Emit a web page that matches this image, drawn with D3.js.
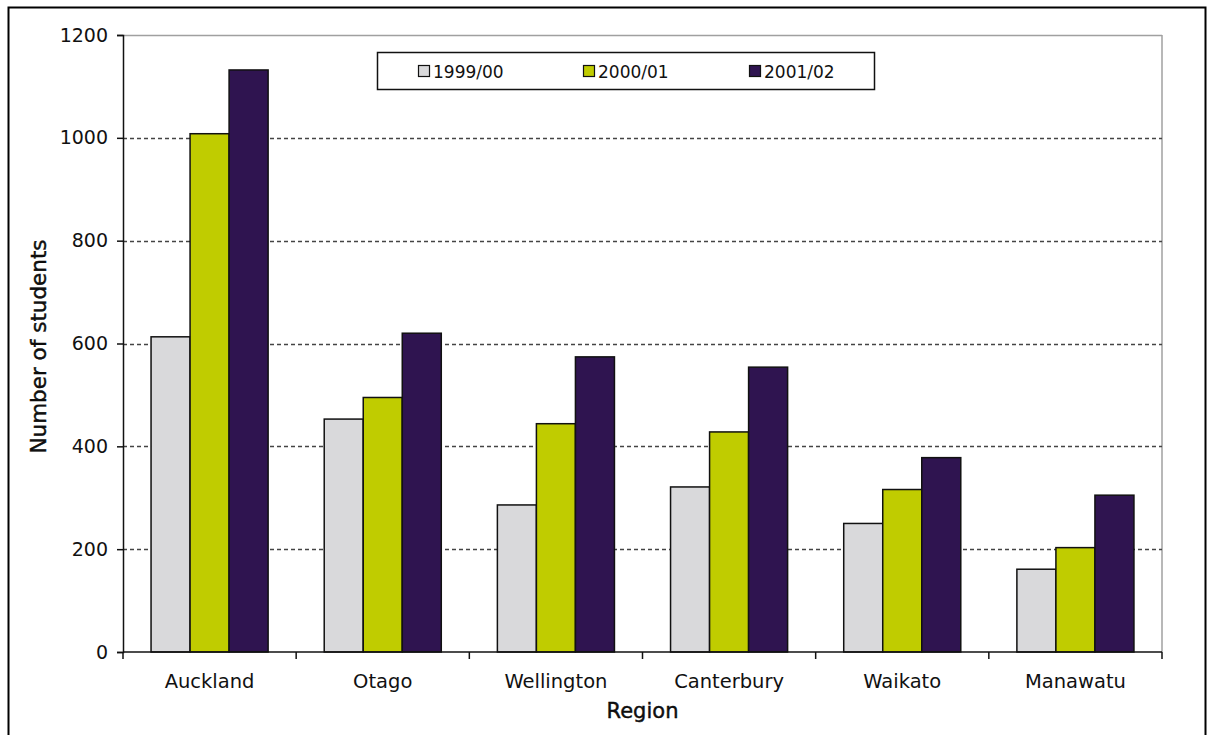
<!DOCTYPE html>
<html>
<head>
<meta charset="utf-8">
<script src="https://cdn.jsdelivr.net/npm/d3@7"></script>
<style>
  html, body { margin: 0; padding: 0; background: #fff; }
  svg { display: block; }
  text { font-family: "DejaVu Sans", Verdana, sans-serif; fill: #111; }
</style>
</head>
<body>
<svg id="chart" width="1209" height="735"></svg>
<script>
// ---- data ----
const regions = ["Auckland", "Otago", "Wellington", "Canterbury", "Waikato", "Manawatu"];
const seriesNames = ["1999/00", "2000/01", "2001/02"];
const values1999 = [613, 453, 286, 321, 250, 161];
const values2000 = [1008, 495, 444, 428, 316, 203];
const values2001 = [1132, 620, 574, 554, 378, 305];
const yTicks = [0, 200, 400, 600, 800, 1000, 1200];
const seriesColors = ["#d9d9db", "#c0cc00", "#2f1450"];

const seriesValues = [values1999, values2000, values2001];

// ---- layout ----
const svg = d3.select("#chart");
const plot = { left: 123, right: 1162, top: 35, bottom: 652 };

// outer frame
svg.append("rect")
  .attr("x", 8.5).attr("y", 7.5)
  .attr("width", 1197).attr("height", 760)
  .attr("fill", "none").attr("stroke", "#000").attr("stroke-width", 2);

const x = d3.scaleBand()
  .domain(regions)
  .range([plot.left, plot.right])
  .paddingInner(0.324)
  .paddingOuter(0.162);

const xs = d3.scaleBand()
  .domain(seriesNames)
  .range([0, x.bandwidth()])
  .padding(0);

const y = d3.scaleLinear()
  .domain([0, 1200])
  .range([plot.bottom, plot.top]);

// plot frame (top & right, grey)
svg.append("line")
  .attr("x1", plot.left).attr("x2", plot.right)
  .attr("y1", y(1200) + 0.5).attr("y2", y(1200) + 0.5)
  .attr("stroke", "#a0a0a0").attr("stroke-width", 1.5);
svg.append("line")
  .attr("x1", plot.right).attr("x2", plot.right)
  .attr("y1", plot.top).attr("y2", plot.bottom)
  .attr("stroke", "#a0a0a0").attr("stroke-width", 1.5);

// gridlines
svg.append("g")
  .selectAll("line")
  .data(yTicks.filter(t => t > 0 && t < 1200))
  .join("line")
  .attr("x1", plot.left).attr("x2", plot.right)
  .attr("y1", d => Math.round(y(d)) + 0.5)
  .attr("y2", d => Math.round(y(d)) + 0.5)
  .attr("stroke", "#444")
  .attr("stroke-width", 1.5)
  .attr("stroke-dasharray", "4,3");

// bars
const groups = svg.append("g")
  .selectAll("g")
  .data(regions)
  .join("g")
  .attr("transform", d => `translate(${x(d)},0)`);

groups.selectAll("rect")
  .data((r, i) => seriesNames.map((s, j) => ({ s, j, v: seriesValues[j][i] })))
  .join("rect")
  .attr("x", d => xs(d.s))
  .attr("y", d => y(d.v))
  .attr("width", xs.bandwidth())
  .attr("height", d => y(0) - y(d.v))
  .attr("fill", d => seriesColors[d.j])
  .attr("stroke", "#111")
  .attr("stroke-width", 1.5);

// y axis
const yAxis = d3.axisLeft(y).tickValues(yTicks).tickSize(6).tickPadding(9).tickFormat(d3.format("d"));
const gy = svg.append("g")
  .attr("transform", `translate(${plot.left},0)`)
  .call(yAxis);
gy.select(".domain").attr("stroke", "#111").attr("stroke-width", 1.5);
gy.selectAll(".tick line").attr("stroke", "#111").attr("stroke-width", 1.5);
gy.selectAll(".tick text")
  .attr("font-size", 19)
  .attr("font-family", "DejaVu Sans, sans-serif")
  .attr("fill", "#333");

// x axis
const gx = svg.append("g")
  .attr("transform", `translate(0,${plot.bottom})`);
gx.append("line")
  .attr("x1", plot.left).attr("x2", plot.right)
  .attr("y1", 0).attr("y2", 0)
  .attr("stroke", "#111").attr("stroke-width", 1.5);
const boundaries = regions.map(r => x(r) - x.step() * x.paddingInner() / 2).concat([plot.right]);
gx.selectAll("line.tk")
  .data(boundaries)
  .join("line")
  .attr("class", "tk")
  .attr("x1", d => d).attr("x2", d => d)
  .attr("y1", 0).attr("y2", 7)
  .attr("stroke", "#111").attr("stroke-width", 1.5);
gx.selectAll("text.cat")
  .data(regions)
  .join("text")
  .attr("class", "cat")
  .attr("x", d => x(d) + x.bandwidth() / 2)
  .attr("y", 36)
  .attr("text-anchor", "middle")
  .attr("font-size", 19.5)
  .attr("fill", "#333")
  .text(d => d);

// axis titles
svg.append("text")
  .attr("x", (plot.left + plot.right) / 2)
  .attr("y", 718)
  .attr("text-anchor", "middle")
  .attr("font-size", 21)
  .attr("fill", "#000")
  .attr("stroke", "#000").attr("stroke-width", 0.4)
  .text("Region");

svg.append("text")
  .attr("transform", `translate(46,${(plot.top + plot.bottom) / 2 + 3}) rotate(-90)`)
  .attr("text-anchor", "middle")
  .attr("font-size", 21.5)
  .attr("fill", "#000")
  .attr("stroke", "#000").attr("stroke-width", 0.4)
  .text("Number of students");

// legend
const legend = svg.append("g");
legend.append("rect")
  .attr("x", 377.5).attr("y", 52.5)
  .attr("width", 497).attr("height", 37)
  .attr("fill", "#fff").attr("stroke", "#111").attr("stroke-width", 1.5);
const legendX = [418, 583, 749];
const li = legend.selectAll("g.item")
  .data(seriesNames)
  .join("g")
  .attr("class", "item")
  .attr("transform", (d, i) => `translate(${legendX[i]},65)`);
li.append("rect")
  .attr("x", 0.5).attr("y", 0.5)
  .attr("width", 11).attr("height", 11)
  .attr("fill", (d, i) => seriesColors[i])
  .attr("stroke", "#111").attr("stroke-width", 1.2);
li.append("text")
  .attr("x", 15)
  .attr("y", 12.5)
  .attr("font-size", 17)
  .attr("fill", "#333")
  .text(d => d);
</script>
</body>
</html>
